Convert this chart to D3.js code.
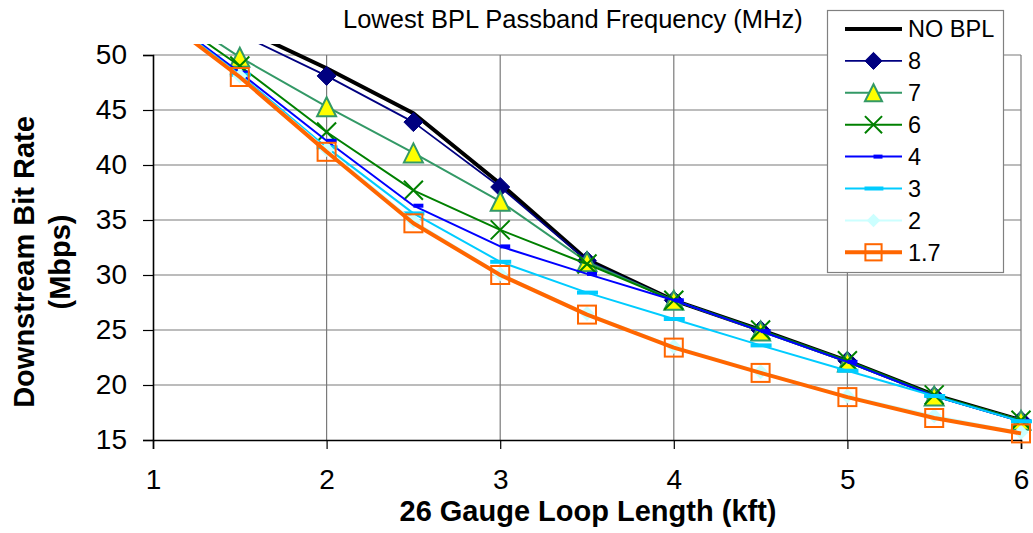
<!DOCTYPE html>
<html>
<head>
<meta charset="utf-8">
<script src="https://cdn.jsdelivr.net/npm/d3@7"></script>
<style>
  html, body { margin: 0; padding: 0; background: #fff; }
  svg { display: block; font-family: "Liberation Sans", Arial, sans-serif; }
</style>
</head>
<body>
<svg id="chart" width="1033" height="533"></svg>
<script>
// Loop length (kft) and downstream bit rate (Mbps) per lowest BPL passband frequency
const loopLengths = [1, 1.5, 2, 2.5, 3, 3.5, 4, 4.5, 5, 5.5, 6];
const xTickValues = [1, 2, 3, 4, 5, 6];
const yTickValues = [15, 20, 25, 30, 35, 40, 45, 50];

const rateNoBpl = [57.0, 52.5, 48.8, 44.7, 38.3, 31.4, 27.7, 25.0, 22.2, 19.1, 16.8];
const rate8     = [56.0, 51.9, 48.1, 43.9, 38.0, 31.3, 27.7, 25.0, 22.2, 19.0, 16.8];
const rate7     = [55.0, 49.8, 45.3, 41.1, 36.7, 31.2, 27.7, 24.9, 22.1, 19.0, 16.8];
const rate6     = [54.5, 49.0, 43.0, 37.7, 34.1, 31.0, 27.7, 25.0, 22.2, 19.1, 16.8];
const rate4     = [54.3, 48.4, 42.2, 36.3, 32.6, 30.1, 27.7, 24.9, 22.1, 19.0, 16.7];
const rate3     = [54.2, 48.2, 41.6, 35.6, 31.2, 28.4, 26.0, 23.6, 21.3, 19.0, 16.7];
const rate2     = [54.1, 48.1, 41.4, 34.9, 30.1, 26.5, 23.5, 21.2, 19.0, 17.2, 15.7];
const rate17    = [54.0, 48.0, 41.2, 34.7, 30.0, 26.4, 23.4, 21.1, 18.9, 17.0, 15.6];

const seriesNames = ["NO BPL", "8", "7", "6", "4", "3", "2", "1.7"];

const styles = [
  { color: "#000000", width: 4,   marker: "none" },
  { color: "#000080", width: 1.8, marker: "diamond", fill: "#000080" },
  { color: "#339966", width: 2,   marker: "triangle", fill: "#FFFF00" },
  { color: "#008000", width: 2,   marker: "x" },
  { color: "#0000FF", width: 2,   marker: "shortdash", fill: "#0000FF" },
  { color: "#00CCFF", width: 2,   marker: "dash", fill: "#00CCFF" },
  { color: "#CCFFFF", width: 2,   marker: "smalldiamond", fill: "#CCFFFF" },
  { color: "#FF6600", width: 4,   marker: "square" }
];

const seriesValues = [rateNoBpl, rate8, rate7, rate6, rate4, rate3, rate2, rate17];
const series = seriesNames.map((name, i) => ({
  name,
  style: styles[i],
  points: loopLengths.map((k, j) => ({ k, v: seriesValues[i][j] }))
}));

const svg = d3.select("#chart");
const x = d3.scaleLinear().domain([1, 6]).range([153, 1021]);
const y = d3.scaleLinear().domain([15, 50]).range([440, 55]);

// gridlines
const grid = svg.append("g").attr("stroke", "#7a7a7a").attr("stroke-width", 1.2);
grid.selectAll("line.h").data(yTickValues.filter(v => v > 15)).join("line")
  .attr("x1", x(1)).attr("x2", x(6))
  .attr("y1", d => y(d)).attr("y2", d => y(d));
grid.selectAll("line.v").data(xTickValues.filter(v => v > 1)).join("line")
  .attr("x1", d => x(d)).attr("x2", d => x(d))
  .attr("y1", y(50)).attr("y2", y(15));

// axes
const yAxis = d3.axisLeft(y).tickValues(yTickValues).tickSize(10).tickPadding(16)
  .tickFormat(d3.format("d"));
const xAxis = d3.axisBottom(x).tickValues(xTickValues).tickSize(9).tickPadding(30)
  .tickFormat(d3.format("d"));

const gy = svg.append("g").attr("transform", `translate(${x(1)},0)`).call(yAxis);
const gx = svg.append("g").attr("transform", `translate(0,${y(15)})`).call(xAxis);
[gy, gx].forEach(g => {
  g.select(".domain").attr("stroke", "#000").attr("stroke-width", 1.6);
  g.selectAll(".tick line").attr("stroke", "#000").attr("stroke-width", 1.2);
  g.selectAll(".tick text").attr("fill", "#000").attr("font-size", 28)
    .attr("font-family", "'Liberation Sans', Arial, sans-serif");
});
gx.selectAll(".tick text").attr("dy", "0.35em");

// plot clip (series run slightly above the top gridline)
svg.append("clipPath").attr("id", "plotClip").append("rect")
  .attr("x", x(1)).attr("y", y(51)).attr("width", x(6) - x(1) + 12).attr("height", y(15) - y(51) + 12);

function drawMarker(g, style, cx, cy, scale) {
  const s = scale || 1;
  switch (style.marker) {
    case "diamond": {
      const r = 9.5 * s;
      g.append("path").attr("d", `M${cx},${cy - r}L${cx + r},${cy}L${cx},${cy + r}L${cx - r},${cy}Z`)
        .attr("fill", style.fill).attr("stroke", style.color).attr("stroke-width", 1);
      break;
    }
    case "triangle": {
      const w = 9.5 * s, h = 9.5 * s;
      g.append("path").attr("d", `M${cx},${cy - h}L${cx + w},${cy + h}L${cx - w},${cy + h}Z`)
        .attr("fill", style.fill).attr("stroke", style.color).attr("stroke-width", 2);
      break;
    }
    case "x": {
      const r = 9.5 * s;
      g.append("path").attr("d", `M${cx - r},${cy - r}L${cx + r},${cy + r}M${cx - r},${cy + r}L${cx + r},${cy - r}`)
        .attr("fill", "none").attr("stroke", style.color).attr("stroke-width", 2);
      break;
    }
    case "shortdash":
      g.append("rect").attr("x", cx).attr("y", cy - 2).attr("width", 10 * s).attr("height", 4)
        .attr("fill", style.fill);
      break;
    case "dash":
      g.append("rect").attr("x", cx - 10 * s).attr("y", cy - 2).attr("width", 21 * s).attr("height", 4)
        .attr("fill", style.fill);
      break;
    case "smalldiamond": {
      const r = 7.5 * s;
      g.append("path").attr("d", `M${cx},${cy - r}L${cx + r},${cy}L${cx},${cy + r}L${cx - r},${cy}Z`)
        .attr("fill", style.fill);
      break;
    }
    case "square": {
      const r = 9 * s;
      g.append("rect").attr("x", cx - r).attr("y", cy - r).attr("width", 2 * r).attr("height", 2 * r)
        .attr("fill", "none").attr("stroke", style.color).attr("stroke-width", 2);
      break;
    }
  }
}

const line = d3.line().x(d => x(d.k)).y(d => y(d.v));
const plot = svg.append("g").attr("clip-path", "url(#plotClip)");
series.forEach(s => {
  const g = plot.append("g");
  g.append("path").datum(s.points).attr("d", line)
    .attr("fill", "none").attr("stroke", s.style.color).attr("stroke-width", s.style.width)
    .attr("stroke-linejoin", "round");
  s.points.filter(p => p.v <= 51).forEach(p => drawMarker(g, s.style, x(p.k), y(p.v)));
});

// titles
svg.append("text").attr("x", 343).attr("y", 28).attr("font-size", 25.5).attr("fill", "#000")
  .text("Lowest BPL Passband Frequency (MHz)");

svg.append("text").attr("x", (x(1) + x(6)) / 2 + 1).attr("y", 521).attr("text-anchor", "middle")
  .attr("font-size", 29).attr("font-weight", "bold").attr("fill", "#000")
  .text("26 Gauge Loop Length (kft)");

const yTitle = svg.append("text").attr("transform", "translate(34,262) rotate(-90)")
  .attr("text-anchor", "middle").attr("font-size", 29).attr("font-weight", "bold").attr("fill", "#000");
yTitle.append("tspan").attr("x", 0).attr("y", 0).text("Downstream Bit Rate");
yTitle.append("tspan").attr("x", 0).attr("y", 36).text("(Mbps)");

// legend
const legend = svg.append("g");
legend.append("rect").attr("x", 827.5).attr("y", 10.5).attr("width", 176).attr("height", 262)
  .attr("fill", "#fff").attr("stroke", "#808080").attr("stroke-width", 1.2);
series.forEach((s, i) => {
  const cy = 29 + i * 31.9;
  const g = legend.append("g");
  g.append("line").attr("x1", 845).attr("x2", 902).attr("y1", cy).attr("y2", cy)
    .attr("stroke", s.style.color).attr("stroke-width", s.style.width);
  drawMarker(g, s.style, 873.5, cy, 0.9);
  g.append("text").attr("x", 908).attr("y", cy).attr("dy", "0.36em")
    .attr("font-size", 23.5).attr("fill", "#000").text(s.name);
});
</script>
</body>
</html>
